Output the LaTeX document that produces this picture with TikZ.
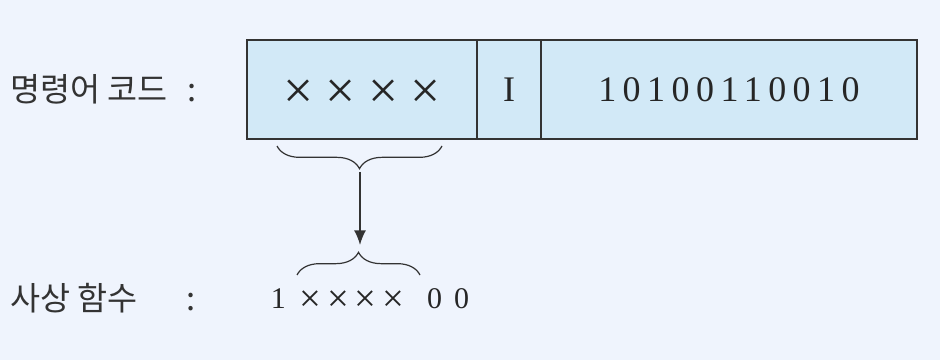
\documentclass[tikz,border=0pt]{standalone}
\usepackage{fontspec}
\setmainfont{Liberation Serif}
\newfontfamily\hangul{Noto Sans CJK KR}
\newfontfamily\bitfont[LetterSpace=18]{Liberation Serif}
\usetikzlibrary{positioning,calc,decorations.pathreplacing,arrows.meta}
\definecolor{pagebg}{HTML}{EFF4FD}
\definecolor{fieldfill}{HTML}{D2E9F7}
\definecolor{inkgray}{HTML}{333333}
\newcommand\bigcross{\raisebox{-5pt}[0pt][0pt]{\fontsize{40}{40}\selectfont ×}}
\newcommand\smallcross{\raisebox{-2.5pt}{\fontsize{29}{29}\selectfont ×}}

\begin{document}
\begin{tikzpicture}[
    x=0.75pt, y=-0.75pt,
    field/.style={rectangle, draw=inkgray, line width=1.4pt, fill=fieldfill, minimum height=74.25pt, inner sep=0pt, outer sep=0pt, font=\bitfont\fontsize{27}{30}\selectfont, text=black!85},
    korlabel/.style={anchor=west, inner sep=0pt, font=\hangul\fontsize{24.5}{26}\selectfont, text=inkgray},
    curly/.style={decorate, decoration={brace, amplitude=17pt}, draw=inkgray, line width=0.9pt},
    arrow/.style={-{Latex[length=11pt,width=9pt]}, line width=1.2pt, draw=inkgray}
]
    \fill[pagebg] (0,0) rectangle (940,360);
    \useasboundingbox (0,0) rectangle (940,360);

    % instruction code fields
    \node[field, minimum width=172.5pt, anchor=north west] (opfield) at (247,40)
        {\vphantom{1}\bigcross\hspace{9pt}\bigcross\hspace{9pt}\bigcross\hspace{9pt}\bigcross};
    \node[field, minimum width=48pt, right=0pt of opfield] (ifield) {I};
    \node[field, minimum width=282pt, right=0pt of ifield] (addrfield) {10100110010};

    \node[korlabel] (codelabel) at (10,89) {명령어 코드\hspace{.6em}:};
    \node[korlabel] (maplabel) at (10,298) {사상 함수\hspace{1.5em}:};

    % mapping result
    \node[inner sep=0pt, font=\fontsize{22.5}{24}\selectfont, text=black!85] (mapbits) at (370,300)
        {1\hspace{10pt}\smallcross\hspace{4.5pt}\smallcross\hspace{4.5pt}\smallcross\hspace{4.5pt}\smallcross\hspace{17pt}0\hspace{9pt}0};

    \coordinate (fantop) at (360,172);
    \coordinate (fanbot) at (360,245);
    \draw[curly] (442,146) -- (277,146);
    \draw[curly] (297,275) -- (420,275);
    \draw[arrow] (fantop) -- (fanbot);
\end{tikzpicture}
\end{document}
